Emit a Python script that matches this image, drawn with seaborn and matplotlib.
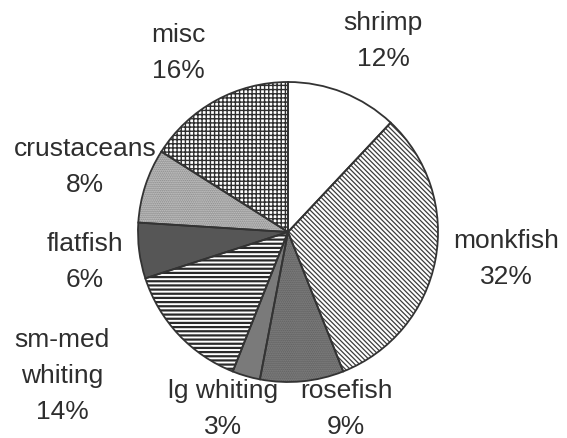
import matplotlib
matplotlib.use("Agg")
import matplotlib.pyplot as plt
import seaborn as sns

# Landings share by category, clockwise from 12 o'clock
categories = ["shrimp", "monkfish", "rosefish", "lg whiting",
              "sm-med\nwhiting", "flatfish", "crustaceans", "misc"]
shares = [12, 32, 9, 3, 14, 6, 8, 16]

sns.set_theme(style="white")
plt.rcParams["font.family"] = ["Liberation Sans", "DejaVu Sans"]

# Fill style per wedge: face colour, hatch, hatch colour, hatch line width
faces = ["white", "white", "#5a5a5a", "#7a7a7a", "white", "#565656", "#7e7e7e", "white"]
hatches = [None, "\\" * 7, "." * 8, None, "-" * 4, None, "." * 8, "+" * 4]
hatch_colors = ["white", "#3c3c3c", "#8c8c8c", "#7a7a7a", "#2a2a2a", "#565656", "#dcdcdc", "#2e2e2e"]
hatch_widths = [1.0, 0.9, 1.0, 1.0, 1.6, 1.0, 1.0, 1.0]

# Label anchors in pixel space (x, y from top)
label_xy = [(383, 41), (506, 259), (346, 409), (223, 409),
            (62, 376), (85, 262), (85, 167), (178, 53)]

W, H = 567, 438
fig = plt.figure(figsize=(W / 100, H / 100), dpi=100)
ax = fig.add_axes([0, 0, 1, 1])

center = (288, H - 232)
radius = 150

# fills and hatches
wedges, _ = ax.pie(shares, startangle=90, counterclock=False,
                   center=center, radius=radius, frame=True,
                   wedgeprops=dict(linewidth=0))
for w, fc, h, hc, hw in zip(wedges, faces, hatches, hatch_colors, hatch_widths):
    w.set_facecolor(fc)
    w.set_edgecolor(hc)
    w.set_linewidth(0)
    if h:
        w.set_hatch(h)
        if hasattr(w, "set_hatch_linewidth"):
            w.set_hatch_linewidth(hw)

# outlines on top
ax.pie(shares, startangle=90, counterclock=False,
       center=center, radius=radius, frame=True,
       wedgeprops=dict(facecolor="none", edgecolor="#333333", linewidth=1.3))

ax.set_xlim(0, W)
ax.set_ylim(0, H)
ax.set_aspect("equal")
ax.axis("off")

for name, val, (px, py) in zip(categories, shares, label_xy):
    ax.text(px, H - py, f"{name}\n{val}%", ha="center", va="center",
            fontsize=19, color="#2e2e2e", linespacing=1.62)

fig.savefig("out.png", dpi=100, facecolor="white")
